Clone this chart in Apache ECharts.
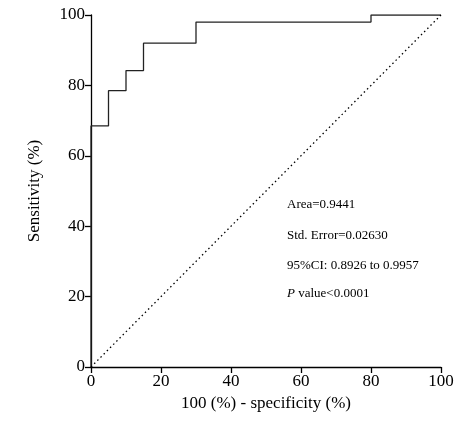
<!DOCTYPE html>
<html><head><meta charset="utf-8">
<script src="https://cdn.jsdelivr.net/npm/echarts@6/dist/echarts.min.js"></script>
<style>html,body{margin:0;background:#fff}#c{width:460px;height:434px}</style>
</head><body><div id="c"></div>
<script>
// ROC step points (100-specificity, sensitivity)
var fpr = [0, 0, 5, 5, 10, 10, 15, 15, 30, 30, 80, 80, 100];
var tpr = [0, 68.5, 68.5, 78.5, 78.5, 84.2, 84.2, 92, 92, 98, 98, 100, 100];
var refLine = [[0, 0], [100, 100]];
var notes = ['Area=0.9441', 'Std. Error=0.02630', '95%CI: 0.8926 to 0.9957', '{i|P} value<0.0001'];

var font = 'Liberation Serif';
var axisCommon = {
    min: 0, max: 100, interval: 20,
    axisLine: {lineStyle: {color: '#000', width: 1.3}},
    axisTick: {inside: false, length: 6, lineStyle: {color: '#000', width: 1.3}},
    axisLabel: {color: '#000', fontFamily: font, fontSize: 17, margin: 6},
    splitLine: {show: false},
    nameTextStyle: {color: '#000', fontFamily: font, fontSize: 17}
};
var chart = echarts.init(document.getElementById('c'));
chart.setOption({
    animation: false,
    grid: {left: 91, right: 19, top: 15, bottom: 67},
    xAxis: Object.assign({type: 'value', name: '100 (%) - specificity (%)', nameLocation: 'middle', nameGap: 26}, axisCommon),
    yAxis: Object.assign({type: 'value', name: 'Sensitivity (%)', nameLocation: 'middle', nameGap: 48}, axisCommon),
    series: [
        {type: 'line', data: fpr.map(function (x, i) { return [x, tpr[i]]; }), symbol: 'none',
         lineStyle: {color: '#222', width: 1.3}},
        {type: 'line', data: refLine, symbol: 'none',
         lineStyle: {color: '#000', width: 1.3, type: [1.5, 3]}}
    ],
    graphic: notes.map(function (t, i) {
        return {type: 'text', left: 287, top: [198, 229, 259, 287][i],
            style: {text: t, fill: '#000', font: '13px ' + font,
                rich: {i: {fontStyle: 'italic', fontFamily: font, fontSize: 13}}}};
    })
});
</script></body></html>
